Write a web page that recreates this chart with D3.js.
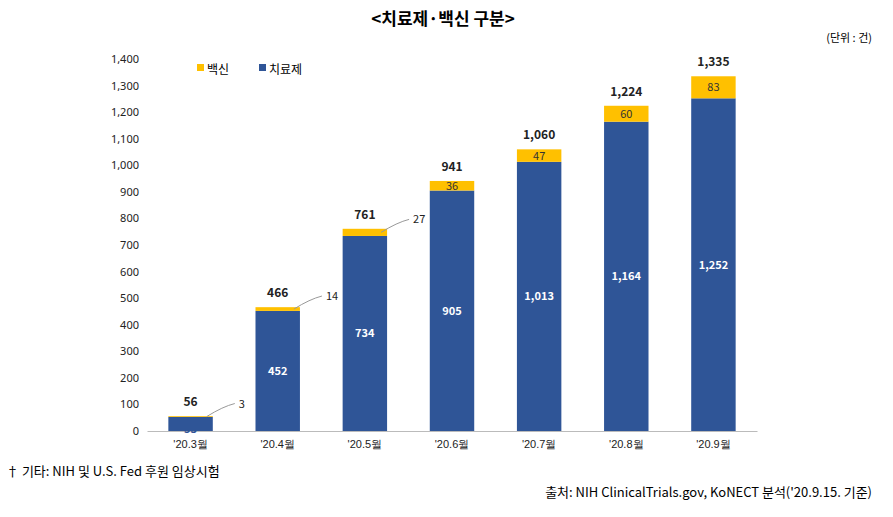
<!DOCTYPE html><html><head><meta charset="utf-8"><script src="https://cdn.jsdelivr.net/npm/d3@7"></script>
<style>body{margin:0;background:#fff;font-family:"Noto Sans CJK KR","Noto Sans",sans-serif}</style></head><body>
<svg id="c" width="893" height="517"></svg>
<script>
const categories=["'20.3월","'20.4월","'20.5월","'20.6월","'20.7월","'20.8월","'20.9월"];
const treatment=[53,452,734,905,1013,1164,1252];
const vaccine=[3,14,27,36,47,60,83];
const totals=[56,466,761,941,1060,1224,1335];
const yTicks=[0,100,200,300,400,500,600,700,800,900,1000,1100,1200,1300,1400];
const svg=d3.select("#c");
const navy="#2F5597",gold="#FFC000";
const x=d3.scaleBand().domain(categories).range([147,757]).paddingInner(0.49).paddingOuter(0.245);
const y=d3.scaleLinear().domain([0,1400]).range([431,59]);
const fmt=d3.format(",");
const ya=svg.append("g").attr("transform","translate(147,0)").call(d3.axisLeft(y).tickValues(yTicks).tickSize(0).tickPadding(8));
ya.select(".domain").remove();
ya.selectAll("text").attr("font-size",11).attr("fill","#222").attr("font-family","Noto Sans");
const xa=svg.append("g").attr("transform","translate(0,431)").call(d3.axisBottom(x).tickSize(0).tickPadding(9));
xa.select(".domain").attr("stroke","#bbb");
xa.selectAll("text").attr("font-size",11).attr("fill","#222");
const bw=x.bandwidth();
categories.forEach((c,i)=>{
  const x0=x(c);
  svg.append("rect").attr("x",x0).attr("width",bw).attr("y",y(treatment[i])).attr("height",y(0)-y(treatment[i])).attr("fill",navy);
  svg.append("rect").attr("x",x0).attr("width",bw).attr("y",y(totals[i])).attr("height",y(treatment[i])-y(totals[i])).attr("fill",gold);
  const cx=x0+bw/2;
  svg.append("text").attr("x",cx).attr("y",i==0?y(treatment[i]/2)+9:y(treatment[i]/2)+4).attr("text-anchor","middle").attr("font-size",11).attr("font-weight","bold").attr("fill",i==0?navy:"#fff").text(fmt(treatment[i]));
  svg.append("text").attr("x",cx).attr("y",y(totals[i])-10).attr("text-anchor","middle").attr("font-size",12).attr("font-weight","bold").attr("fill","#222").text(fmt(totals[i]));
  if(i<3){
    const ym=y(treatment[i]+vaccine[i]/2);
    svg.append("path").attr("d",`M${x0+bw-6},${ym} Q${x0+bw+10},${ym-10} ${x0+bw+22},${ym-13}`).attr("fill","none").attr("stroke","#999");
    svg.append("text").attr("x",x0+bw+26).attr("y",ym-9).attr("font-size",11).attr("fill","#222").text(vaccine[i]);
  } else {
    svg.append("text").attr("x",cx).attr("y",y(treatment[i]+vaccine[i]/2)+4).attr("text-anchor","middle").attr("font-size",11).attr("fill","#333").text(vaccine[i]);
  }
});
svg.append("text").attr("x",443).attr("y",25).attr("text-anchor","middle").attr("font-size",17).attr("font-weight","bold").text("<치료제·백신 구분>");
svg.append("text").attr("x",872).attr("y",42).attr("text-anchor","end").attr("font-size",11).text("(단위 : 건)");
svg.append("rect").attr("x",197).attr("y",64).attr("width",7).attr("height",7).attr("fill",gold);
svg.append("text").attr("x",207).attr("y",74).attr("font-size",12).text("백신");
svg.append("rect").attr("x",259).attr("y",64).attr("width",7).attr("height",7).attr("fill",navy);
svg.append("text").attr("x",269).attr("y",74).attr("font-size",12).text("치료제");
svg.append("text").attr("x",6).attr("y",476).attr("font-size",13).text("† 기타: NIH 및 U.S. Fed 후원 임상시험");
svg.append("text").attr("x",872).attr("y",497).attr("text-anchor","end").attr("font-size",13).text("출처: NIH ClinicalTrials.gov, KoNECT 분석('20.9.15. 기준)");
</script></body></html>
